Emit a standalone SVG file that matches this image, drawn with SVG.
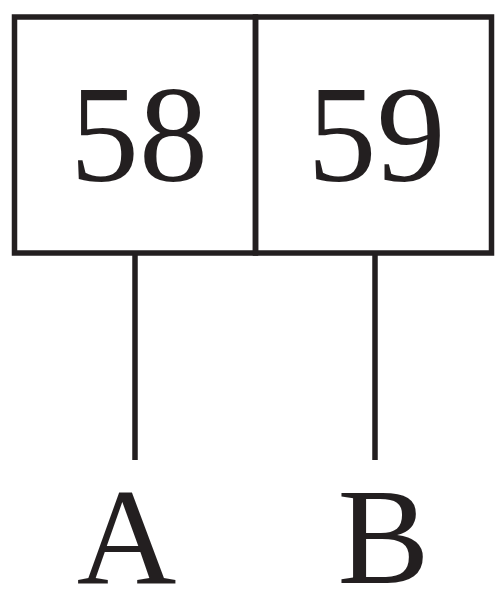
<svg xmlns="http://www.w3.org/2000/svg" width="495" height="591" viewBox="0 0 495 591">
<style>
.box{fill:none;stroke:#231f20;stroke-width:5.5}
.ln{stroke:#231f20;stroke-width:5.5;fill:none}
.t{font-family:"Liberation Serif","Times New Roman",serif;font-size:138px;fill:#231f20;text-anchor:middle}
</style>
<rect width="495" height="591" fill="#ffffff"/>
<g id="cell58">
<rect class="box" x="14.5" y="17" width="241" height="236"/>
<text class="t" x="139" y="181">58</text>
</g>
<g id="cell59">
<rect class="box" x="255.5" y="17" width="236" height="236"/>
<text class="t" x="376.5" y="181">59</text>
</g>
<g id="connectors">
<line class="ln" x1="135" y1="253" x2="135" y2="460"/>
<line class="ln" x1="375" y1="253" x2="375" y2="460"/>
</g>
<g id="labelA"><text class="t" x="126.5" y="583">A</text></g>
<g id="labelB"><text class="t" x="383.5" y="583">B</text></g>
</svg>
